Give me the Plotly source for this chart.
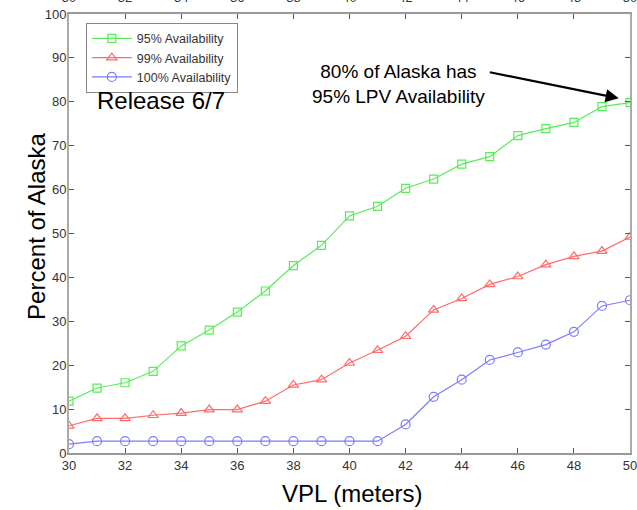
import plotly.graph_objects as go

vpl = list(range(30, 51))
avail95 = [11.8, 14.8, 16.0, 18.6, 24.4, 28.0, 32.1, 36.9, 42.7, 47.3, 54.0,
           56.2, 60.3, 62.4, 65.8, 67.5, 72.3, 73.9, 75.3, 78.9, 79.8]
avail99 = [6.2, 7.9, 7.9, 8.6, 9.1, 9.9, 9.9, 11.8, 15.5, 16.7, 20.5,
           23.4, 26.6, 32.6, 35.2, 38.4, 40.2, 42.9, 44.8, 46.0, 49.2]
avail100 = [2.0, 2.7, 2.7, 2.7, 2.7, 2.7, 2.7, 2.7, 2.7, 2.7, 2.7,
            2.7, 6.5, 12.8, 16.7, 21.2, 22.9, 24.7, 27.6, 33.5, 34.8]
series_names = ["95% Availability", "99% Availability", "100% Availability"]
x_ticks = list(range(30, 51, 2))
y_ticks = list(range(0, 101, 10))

colors = ["#55ee55", "#ff6b6b", "#7b7bff"]
symbols = ["square-open", "triangle-up-open", "circle-open"]
sizes = [8, 9, 9]

fig = go.Figure()
for name, ys, c, s, sz in zip(series_names, [avail95, avail99, avail100], colors, symbols, sizes):
    fig.add_trace(go.Scatter(
        x=vpl, y=ys, name=name, mode="lines+markers",
        line=dict(color=c, width=1.2),
        marker=dict(symbol=s, size=sz, color=c, line=dict(color=c, width=1.2)),
    ))

# dummy trace to anchor the top axis
fig.add_trace(go.Scatter(x=vpl, y=avail95, xaxis="x2", showlegend=False,
                         hoverinfo="skip", mode="lines", line=dict(width=0),
                         opacity=0))

FONT = "Liberation Sans, Arial"
tickfont = dict(family=FONT, size=13, color="#333333")
fig.update_layout(
    width=637, height=510,
    margin=dict(l=69, r=7, t=14, b=57, autoexpand=False),
    plot_bgcolor="white", paper_bgcolor="white",
    showlegend=True,
    legend=dict(x=0.03, y=0.98, xanchor="left", yanchor="top",
                bgcolor="white", bordercolor="#888888", borderwidth=1,
                font=dict(family=FONT, size=12.5, color="#333333"),
                tracegroupgap=0, itemwidth=40),
    xaxis=dict(range=[30, 50], tickvals=x_ticks, ticks="inside", ticklen=5,
               tickcolor="#555555", showline=True, linecolor="#999999", linewidth=1.5,
               mirror="ticks", showgrid=False, zeroline=False, tickfont=tickfont,
               automargin=False, ticklabeloverflow="allow"),
    xaxis2=dict(range=[30, 50], tickvals=x_ticks, overlaying="x", side="top",
                ticks="", showline=False, showgrid=False, zeroline=False,
                tickfont=tickfont, ticklabelstandoff=8, automargin=False,
                ticklabeloverflow="allow"),
    yaxis=dict(range=[0, 100], tickvals=y_ticks, ticks="inside", ticklen=5,
               tickcolor="#555555", showline=True, linecolor="#aaaaaa", linewidth=2,
               mirror="ticks", showgrid=False, zeroline=False, tickfont=tickfont,
               ticklabelstandoff=-2, automargin=False, ticklabeloverflow="allow"),
    annotations=[
        dict(text="VPL (meters)", x=0.505, y=0.0, xref="paper", yref="paper",
             xanchor="center", yanchor="middle", yshift=-40, showarrow=False,
             font=dict(family=FONT, size=24, color="black")),
        dict(text="Percent of Alaska", x=0, y=0.515, xref="paper", yref="paper",
             xanchor="center", yanchor="middle", xshift=-32, textangle=-90,
             showarrow=False,
             font=dict(family=FONT, size=24, color="black")),
        dict(text="Release 6/7", x=0.046, y=0.804, xref="paper", yref="paper",
             xanchor="left", yanchor="middle", showarrow=False,
             font=dict(family=FONT, size=24, color="black")),
        dict(text="80% of Alaska has<br>95% LPV Availability", x=0.588, y=0.84,
             xref="paper", yref="paper", xanchor="center", yanchor="middle",
             showarrow=False, align="center",
             font=dict(family=FONT, size=19, color="black")),
        dict(text="", x=49.6, y=80.8, xref="x", yref="y",
             ax=44.95, ay=86.8, axref="x", ayref="y", showarrow=True,
             arrowhead=2, arrowsize=1.2, arrowwidth=2.2, arrowcolor="black"),
    ],
)

fig.write_html("out.html", config={"displayModeBar": False},
               post_script="document.body.style.margin='0';")
